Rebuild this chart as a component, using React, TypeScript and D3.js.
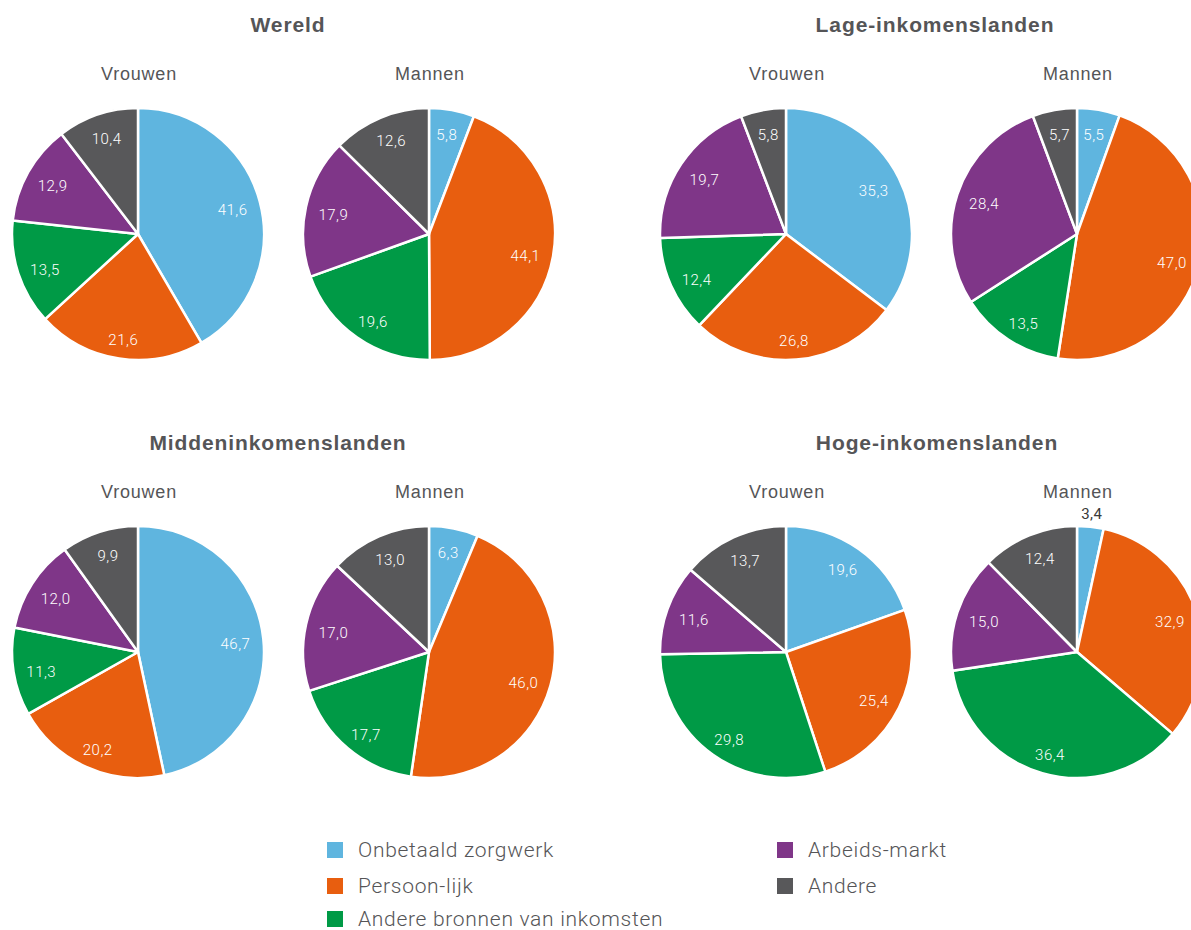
import React from "react";
import * as d3 from "d3";

// Categories and colours (same order for every pie, clockwise from 12 o'clock)
const categories = [
  "Onbetaald zorgwerk",
  "Persoon-lijk",
  "Andere bronnen van inkomsten",
  "Arbeids-markt",
  "Andere",
];
const colors = ["#5FB5DF", "#E85E0F", "#009A46", "#7F3688", "#58585A"];

const regions = [
  "Wereld",
  "Lage-inkomenslanden",
  "Middeninkomenslanden",
  "Hoge-inkomenslanden",
];
const groups = ["Vrouwen", "Mannen"];

// Shares (%) per region, women then men
const wereldVrouwen = [41.6, 21.6, 13.5, 12.9, 10.4];
const wereldMannen = [5.8, 44.1, 19.6, 17.9, 12.6];
const lageVrouwen = [35.3, 26.8, 12.4, 19.7, 5.8];
const lageMannen = [5.5, 47.0, 13.5, 28.4, 5.7];
const middenVrouwen = [46.7, 20.2, 11.3, 12.0, 9.9];
const middenMannen = [6.3, 46.0, 17.7, 17.0, 13.0];
const hogeVrouwen = [19.6, 25.4, 29.8, 11.6, 13.7];
const hogeMannen = [3.4, 32.9, 36.4, 15.0, 12.4];

const regionData = [
  [wereldVrouwen, wereldMannen],
  [lageVrouwen, lageMannen],
  [middenVrouwen, middenMannen],
  [hogeVrouwen, hogeMannen],
];

const W = 1191;
const H = 930;
const R = 126;
const pieX = [138, 429];
const panelX = [0, 648];
const rowY = [234, 652];
const titleX = [288, 935, 278, 937];
const headFont = "'Liberation Sans', Arial, Helvetica, sans-serif";
const lightFont = "Roboto, 'Helvetica Neue', 'Liberation Sans', sans-serif";
const textColor = "#555557";

const fmt = (v: number) => d3.format(".1f")(v).replace(".", ",");

const pie = d3
  .pie<number>()
  .sort(null)
  .value((d) => d);
const arc = d3.arc<d3.PieArcDatum<number>>().innerRadius(0).outerRadius(R);

function Pie({ values, cx, cy }: { values: number[]; cx: number; cy: number }) {
  const arcs = pie(values);
  return (
    <g transform={`translate(${cx},${cy})`}>
      {arcs.map((a, i) => (
        <path
          key={i}
          d={arc(a) || ""}
          fill={colors[i]}
          stroke="#fff"
          strokeWidth={2.5}
          strokeLinejoin="round"
        />
      ))}
      {arcs.map((a, i) => {
        const mid = (a.startAngle + a.endAngle) / 2;
        // very thin slices get their value just outside the rim
        const small = a.value < 4;
        const dist = small ? R + 13 : R - 28;
        const x = Math.sin(mid) * dist;
        const y = -Math.cos(mid) * dist * (small ? 1 : 1.06) + (small ? 0 : 3);
        return (
          <text
            key={i}
            x={x}
            y={y}
            dy="0.35em"
            textAnchor="middle"
            fontFamily={lightFont}
            fontWeight={small ? 400 : 300}
            fontSize={15}
            letterSpacing={0.5}
            fill={small ? "#3a3a3a" : "#fff"}
          >
            {fmt(a.value)}
          </text>
        );
      })}
    </g>
  );
}

export default function App() {
  const legendCols = [
    { x: 327, items: [0, 1, 2] },
    { x: 777, items: [3, 4] },
  ];
  const legendY = [850, 886, 919];
  return (
    <svg
      width={W}
      height={H}
      style={{ position: "absolute", left: 0, top: 0, background: "#fff" }}
    >
      {regions.map((name, r) => {
        const ox = panelX[r % 2];
        const cy = rowY[Math.floor(r / 2)];
        return (
          <g key={name}>
            <text
              x={titleX[r]}
              y={cy - 209}
              dy="0.35em"
              textAnchor="middle"
              fontFamily={headFont}
              fontWeight={700}
              fontSize={21}
              letterSpacing={0.9}
              fill={textColor}
            >
              {name}
            </text>
            {groups.map((g, k) => (
              <g key={g}>
                <text
                  x={ox + pieX[k] + 1}
                  y={cy - 160}
                  dy="0.35em"
                  textAnchor="middle"
                  fontFamily={headFont}
                  fontSize={18}
                  letterSpacing={0.8}
                  fill={textColor}
                >
                  {g}
                </text>
                <Pie values={regionData[r][k]} cx={ox + pieX[k]} cy={cy} />
              </g>
            ))}
          </g>
        );
      })}
      {legendCols.map((col) =>
        col.items.map((ci, j) => (
          <g key={ci}>
            <rect
              x={col.x}
              y={legendY[j] - 8}
              width={16}
              height={16}
              fill={colors[ci]}
            />
            <text
              x={col.x + 31}
              y={legendY[j]}
              dy="0.35em"
              fontFamily={lightFont}
              fontWeight={300}
              fontSize={21}
              letterSpacing={0.7}
              fill={textColor}
            >
              {categories[ci]}
            </text>
          </g>
        ))
      )}
    </svg>
  );
}
